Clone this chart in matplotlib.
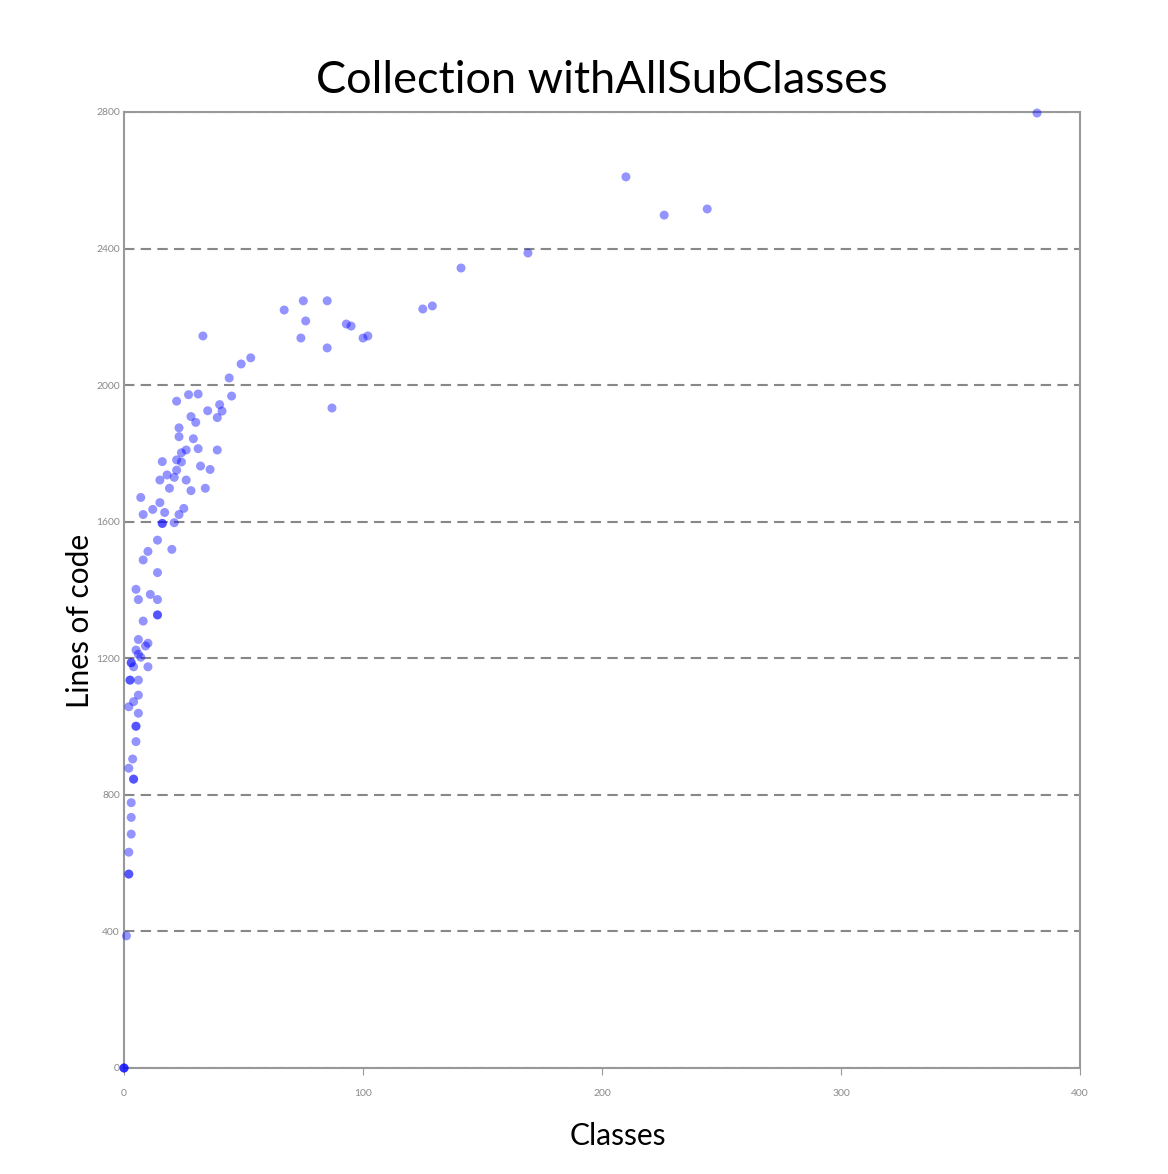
import matplotlib
matplotlib.use("Agg")
import matplotlib.pyplot as plt

# Classes vs lines of code
classes = [
    382, 210, 226, 244, 169, 141, 125, 129,
    67, 75, 85, 76, 74, 85, 93, 95, 100, 102, 87,
    33, 53, 49, 44, 45,
    22, 27, 31, 35, 40, 41, 39, 28, 30, 23, 23, 29, 39, 31, 26, 24,
    16, 22, 24, 32, 36, 22, 18, 21, 15, 26, 19, 28, 34,
    7, 15, 12, 8, 17, 25, 23, 21, 16, 16, 14, 10, 8, 20, 14,
    5, 6, 11, 14, 14, 14, 8, 6, 10, 9, 5, 6, 7, 3, 3, 4, 10,
    2.5, 2.5, 6, 6, 4, 2, 6, 5, 5, 5,
    3.6, 2, 4, 4, 3, 3, 3, 2, 2, 2, 1, 0, 0, 0,
]
lines_of_code = [
    2797, 2610, 2498, 2516, 2387, 2343, 2223, 2232,
    2220, 2247, 2247, 2188, 2138, 2109, 2179, 2173, 2138, 2144, 1933,
    2144, 2080, 2062, 2021, 1968,
    1953, 1972, 1974, 1925, 1943, 1924, 1905, 1908, 1891, 1875, 1849, 1843, 1810, 1814, 1810, 1802,
    1776, 1781, 1775, 1763, 1753, 1751, 1737, 1730, 1722, 1722, 1698, 1691, 1698,
    1671, 1656, 1636, 1621, 1627, 1639, 1621, 1597, 1595, 1595, 1546, 1513, 1488, 1519, 1451,
    1402, 1372, 1387, 1372, 1327, 1327, 1309, 1255, 1244, 1236, 1224, 1212, 1203, 1187, 1187, 1175, 1175,
    1136, 1136, 1136, 1092, 1073, 1058, 1039, 1001, 1001, 956,
    905, 878, 846, 846, 777, 734, 685, 632, 568, 568, 387, 0, 0, 0,
]

x_ticks = [0, 100, 200, 300, 400]
y_ticks = [0, 400, 800, 1200, 1600, 2000, 2400, 2800]

plt.rcParams['font.family'] = ['Lato', 'DejaVu Sans']

fig = plt.figure(figsize=(11.68, 11.74), dpi=100)
ax = fig.add_axes([0.1062, 0.0903, 0.8185, 0.8143])

ax.scatter(classes, lines_of_code, s=42, color='blue', alpha=0.42,
           edgecolors='none', zorder=3, clip_on=False)

ax.set_xlim(0, 400)
ax.set_ylim(0, 2800)
ax.set_xticks(x_ticks)
ax.set_yticks(y_ticks)

ax.grid(True, axis='y', color='#888888', linestyle=(0, (5, 3)), linewidth=1.5)
ax.set_axisbelow(True)

for side in ax.spines.values():
    side.set_color('#999999')
    side.set_linewidth(1.5)

ax.tick_params(axis='both', labelsize=7.5, colors='#999999', labelcolor='#8a8a8a')
ax.tick_params(axis='x', length=5, pad=10)
ax.tick_params(axis='y', length=0, pad=3)

ax.set_title('Collection withAllSubClasses', fontsize=32.5, pad=14)
ax.set_xlabel('Classes', fontsize=21.5)
ax.set_ylabel('Lines of code', fontsize=21.5)
# labels sit slightly off-centre in the reference
ax.xaxis.set_label_coords(0.517, -0.056)
ax.yaxis.set_label_coords(-0.031, 0.468)

fig.savefig('out.png', dpi=100)
